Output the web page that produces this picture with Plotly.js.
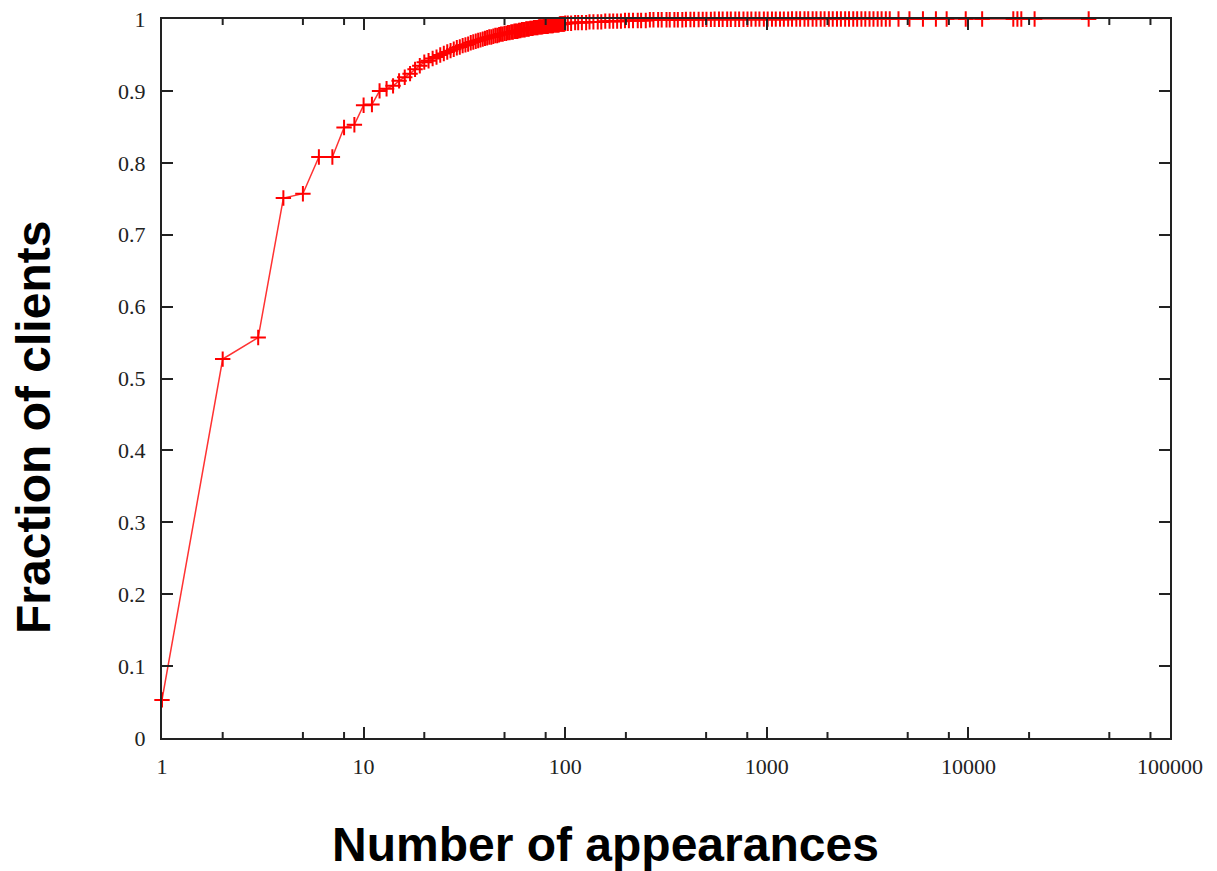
<!DOCTYPE html>
<html>
<head>
<meta charset="utf-8">
<script src="https://cdn.plot.ly/plotly-3.0.1.min.js"></script>
<style>html,body{margin:0;padding:0;background:#fff;}#chart{width:1217px;height:871px;}</style>
</head>
<body>
<div id="chart"></div>
<script>
// Number of appearances (x) and cumulative fraction of clients (y)
const appearances = [
  1,2,3,4,5,6,7,8,9,10,
  11,12,13,14,15,16,17,18,19,20,
  21,22,23,24,25,26,27,28,29,30,
  31,32,33,34,35,36,37,38,39,40,
  41,42,43,44,45,46,47,48,49,50,
  51,52,53,54,55,56,57,58,59,60,
  61,62,63,64,65,66,67,68,69,70,
  71,72,73,74,75,76,77,78,79,80,
  81,82,83,84,85,86,87,88,89,90,
  91,92,93,94,95,96,97,98,99,100,
  103,107,112,116,121,127,132,138,145,151,
  158,166,173,181,189,198,207,217,229,238,
  251,263,274,289,301,318,330,348,362,381,
  397,418,436,459,481,502,528,551,579,604,
  636,663,698,729,766,802,838,880,919,967,
  1010,1061,1108,1163,1215,1276,1334,1401,1463,1538,
  1605,1688,1762,1851,1934,2031,2124,2229,2331,2447,
  2558,2684,2807,2946,3081,3232,3381,3547,3710,3893,4072,
  4500,5100,5950,6900,7800,9700,11700,16700,17500,18300,21300,39500
];
const fraction = [
  0.053,0.527,0.557,0.751,0.757,0.808,0.808,0.849,0.853,0.880,
  0.881,0.900,0.903,0.907,0.914,0.919,0.924,0.930,0.935,0.940,
  0.942,0.945,0.947,0.950,0.952,0.954,0.956,0.958,0.960,0.961,
  0.963,0.964,0.965,0.967,0.968,0.969,0.970,0.971,0.972,0.973,
  0.974,0.975,0.975,0.976,0.977,0.977,0.978,0.979,0.979,0.980,
  0.980,0.981,0.981,0.982,0.982,0.983,0.983,0.983,0.984,0.984,
  0.985,0.985,0.985,0.986,0.986,0.986,0.987,0.987,0.987,0.988,
  0.988,0.988,0.988,0.989,0.989,0.989,0.989,0.990,0.990,0.990,
  0.990,0.990,0.991,0.991,0.991,0.991,0.991,0.992,0.992,0.992,
  0.992,0.992,0.992,0.993,0.993,0.993,0.993,0.993,0.993,0.994,
  0.994,0.994,0.995,0.995,0.995,0.995,0.996,0.996,0.996,0.996,
  0.997,0.997,0.997,0.997,0.997,0.998,0.998,0.998,0.998,0.998,
  0.998,0.999,0.999,0.999,0.999,0.999,0.999,0.999,0.999,0.999,
  0.9993,0.9993,0.9994,0.9994,0.9995,0.9995,0.9995,0.9996,0.9996,0.9996,
  0.9996,0.9997,0.9997,0.9997,0.9997,0.9997,0.9998,0.9998,0.9998,0.9998,
  0.9998,0.9998,0.9998,0.9998,0.9998,0.9998,0.9999,0.9999,0.9999,0.9999,
  0.9999,0.9999,0.9999,0.9999,0.9999,0.9999,0.9999,0.9999,0.9999,0.9999,
  0.9999,0.9999,0.9999,0.9999,0.9999,0.9999,0.9999,0.9999,0.9999,0.9999,0.9999,
  0.9999,0.9999,0.9999,0.9999,0.9999,1.0,1.0,1.0,1.0,1.0,1.0,1.0
];
const xTickVals = [1,10,100,1000,10000,100000];
const xTickText = ['1','10','100','1000','10000','100000'];
const xMinorVals = [2,5,8,20,50,80,200,500,800,2000,5000,8000,20000,50000,80000];
const yTickVals = [0,0.1,0.2,0.3,0.4,0.5,0.6,0.7,0.8,0.9,1];
const yTickText = ['0','0.1','0.2','0.3','0.4','0.5','0.6','0.7','0.8','0.9','1'];
const xTitle = 'Number of appearances';
const yTitle = 'Fraction of clients';

const trace = {
  x: appearances,
  y: fraction,
  type: 'scatter',
  mode: 'lines+markers',
  cliponaxis: false,
  line: {color: 'rgb(255,50,50)', width: 1.5},
  marker: {symbol: 'cross-thin', size: 11, color: 'rgb(255,0,0)', line: {color: 'rgb(255,0,0)', width: 2}},
  hoverinfo: 'x+y'
};

const tickFont = {family: '"Liberation Serif", "DejaVu Serif", serif', size: 22, color: '#222'};
const titleFont = {family: '"Liberation Sans", Arial, sans-serif', size: 48, color: '#000', weight: 'bold'};

// minor tick marks (bottom and mirrored top), placed through the x axis scale
const minorLen = 6 / 719;
const shapes = [];
xMinorVals.forEach(function (v) {
  shapes.push({type: 'line', xref: 'x', yref: 'paper', x0: v, x1: v, y0: 0, y1: minorLen, line: {color: '#222', width: 2}, layer: 'above'});
  shapes.push({type: 'line', xref: 'x', yref: 'paper', x0: v, x1: v, y0: 1 - minorLen, y1: 1, line: {color: '#222', width: 2}, layer: 'above'});
});

const layout = {
  width: 1217,
  height: 871,
  paper_bgcolor: '#fff',
  plot_bgcolor: '#fff',
  showlegend: false,
  margin: {l: 162, r: 47, t: 19, b: 133, pad: 0},
  xaxis: {
    type: 'log',
    range: [0, 5],
    tickmode: 'array',
    tickvals: xTickVals,
    ticktext: xTickText,
    ticks: 'inside',
    ticklen: 11,
    tickwidth: 2,
    tickcolor: '#222',
    showline: true,
    linecolor: '#222',
    linewidth: 2,
    mirror: 'ticks',
    showgrid: false,
    zeroline: false,
    layer: 'above traces',
    tickfont: tickFont,
    ticklabelstandoff: 8
  },
  yaxis: {
    range: [0, 1],
    tickmode: 'array',
    tickvals: yTickVals,
    ticktext: yTickText,
    ticks: 'inside',
    ticklen: 11,
    tickwidth: 2,
    tickcolor: '#222',
    showline: true,
    linecolor: '#222',
    linewidth: 2,
    mirror: 'ticks',
    showgrid: false,
    zeroline: false,
    layer: 'above traces',
    tickfont: tickFont,
    ticklabelstandoff: 10
  },
  shapes: shapes,
  annotations: [
    {text: xTitle, xref: 'paper', yref: 'paper', x: 0.4395, y: -0.1475, xanchor: 'center', yanchor: 'middle', showarrow: false, font: titleFont},
    {text: yTitle, xref: 'paper', yref: 'paper', x: -0.128, y: 0.4325, xanchor: 'center', yanchor: 'middle', textangle: -90, showarrow: false, font: titleFont}
  ]
};

Plotly.newPlot('chart', [trace], layout, {displayModeBar: false, staticPlot: true});
</script>
</body>
</html>
